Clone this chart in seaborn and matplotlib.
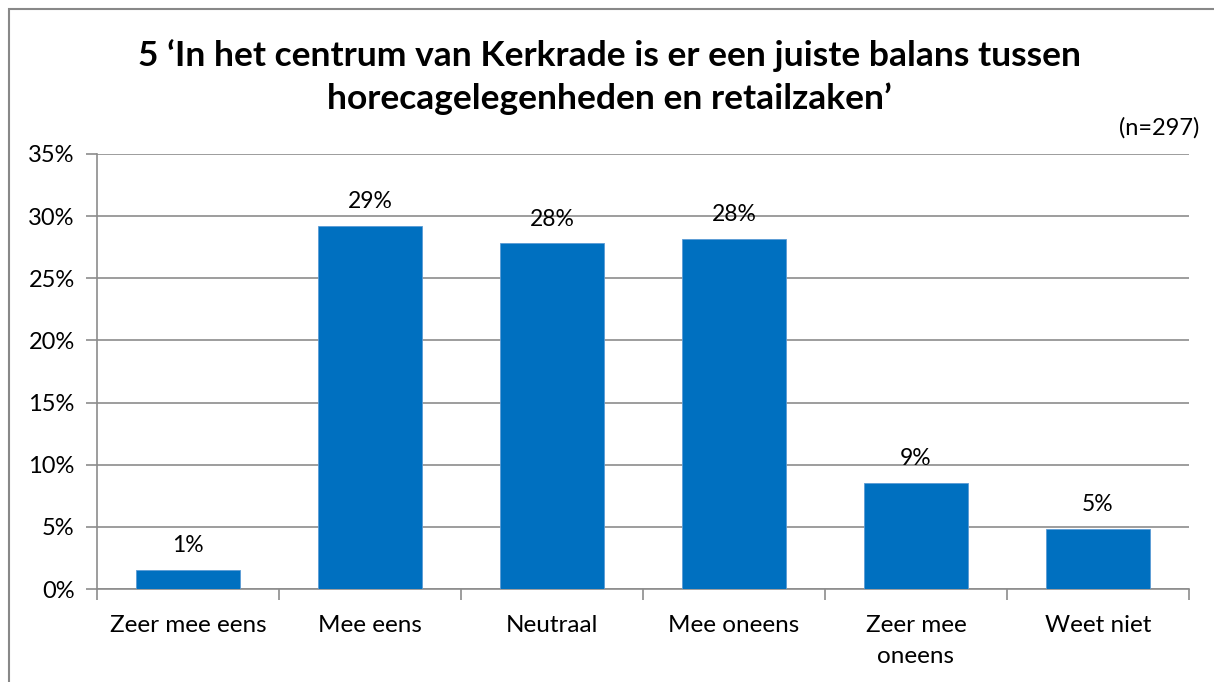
import matplotlib
matplotlib.use("Agg")
import matplotlib.pyplot as plt
import seaborn as sns
import pandas as pd
import numpy as np
from matplotlib.patches import Rectangle

categories = ["Zeer mee eens", "Mee eens", "Neutraal", "Mee oneens", "Zeer mee\noneens", "Weet niet"]
values = [1.5, 29.2, 27.8, 28.2, 8.5, 4.8]
labels = ["1%", "29%", "28%", "28%", "9%", "5%"]
yticks = [0, 5, 10, 15, 20, 25, 30, 35]
title = "5 \u2018In het centrum van Kerkrade is er een juiste balans tussen\nhorecagelegenheden en retailzaken\u2019"
note = "(n=297)"

sns.set_style("white")
plt.rcParams['font.family'] = ['Lato', 'DejaVu Sans']

df = pd.DataFrame({"cat": categories, "val": values})

fig = plt.figure(figsize=(12.14, 6.82), dpi=100)
W, H = 1214, 682
ax = fig.add_axes([97 / W, 1 - 589 / H, (1189 - 97) / W, (589 - 154) / H])

sns.barplot(data=df, x="cat", y="val", color="#0070C0", saturation=1, width=0.57, ax=ax, zorder=3)
for p in ax.patches:
    p.set_edgecolor("#5b9bd5")
    p.set_linewidth(0.6)

ax.set_ylim(0, 35)
ax.set_xlim(-0.5, len(categories) - 0.5)
ax.set_yticks(yticks)
ax.set_yticklabels([f"{t}%" for t in yticks])
ax.yaxis.grid(True, color="#8c8c8c", linewidth=1.2, zorder=0)
ax.set_axisbelow(True)
ax.set_xlabel("")
ax.set_ylabel("")

for s in ["top", "right"]:
    ax.spines[s].set_visible(False)
for s in ["left", "bottom"]:
    ax.spines[s].set_color("#8c8c8c")
    ax.spines[s].set_linewidth(1.2)

ax.tick_params(axis="y", which="major", length=8, width=1.2, color="#8c8c8c", direction="out",
               labelsize=17, pad=8, left=True, labelcolor="black")
ax.set_xticks(range(len(categories)))
ax.set_xticklabels(categories)
ax.tick_params(axis="x", which="major", length=0, labelsize=17.5, pad=19, labelcolor="black")
ax.set_xticks(np.arange(-0.5, len(categories), 1.0), minor=True)
ax.tick_params(axis="x", which="minor", length=8, width=1.2, color="#8c8c8c", direction="out", bottom=True)
for lab in ax.get_xticklabels():
    lab.set_linespacing(1.55)
    lab.set_verticalalignment("top")

for i, (v, l) in enumerate(zip(values, labels)):
    ax.annotate(l, (i, v), xytext=(0, 10), textcoords="offset points",
                ha="center", va="bottom", fontsize=16.5, color="black")

fig.text(0.5 * (97 + 1189) / W - 0.028, 1 - 77 / H, title, ha="center", va="center",
         fontsize=25.5, fontweight="bold", linespacing=1.4, color="black")
fig.text(1199 / W, 1 - 128 / H, note, ha="right", va="center", fontsize=17, color="black")

fig.patches.append(Rectangle((9 / W, -0.01), 1.02, 1 - 9 / H + 0.01, transform=fig.transFigure,
                             fill=False, edgecolor="#888888", linewidth=1.5))

fig.savefig("out.png", dpi=100)
